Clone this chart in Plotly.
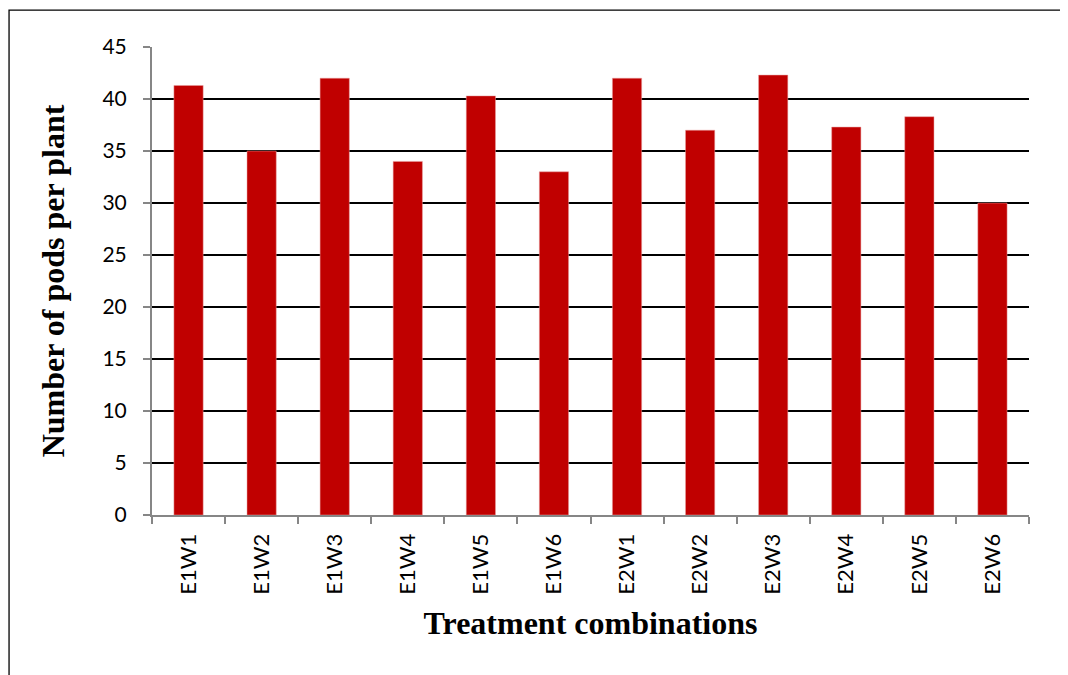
import plotly.graph_objects as go

treatments = ["E1W1", "E1W2", "E1W3", "E1W4", "E1W5", "E1W6",
              "E2W1", "E2W2", "E2W3", "E2W4", "E2W5", "E2W6"]
pods_per_plant = [41.3, 35.0, 42.0, 34.0, 40.3, 33.0,
                  42.0, 37.0, 42.3, 37.3, 38.3, 30.0]
y_ticks = [0, 5, 10, 15, 20, 25, 30, 35, 40, 45]

fig = go.Figure()

fig.add_trace(go.Bar(
    x=treatments,
    y=pods_per_plant,
    marker=dict(color="#C00000", line=dict(color="#E8A0A0", width=0.5)),
    width=0.4,
))

# outer chart frame (left and top edges visible, others run off the page)
fig.add_shape(type="rect", xref="paper", yref="paper",
              x0=-0.163, x1=1.2, y0=-0.6, y1=1.079,
              line=dict(color="black", width=1.3), layer="below")

# page body adds an 8px offset, so the margins are shifted to compensate
fig.update_layout(
    width=1068, height=675,
    margin=dict(l=144, r=47, t=39, b=168),
    plot_bgcolor="white", paper_bgcolor="white",
    showlegend=False,
    font=dict(family="Lato, 'Open Sans', sans-serif", size=21, color="black"),
)

fig.update_xaxes(
    showline=True, linecolor="#868686", linewidth=2,
    ticks="outside", tickcolor="#868686", ticklen=7, tickwidth=2,
    tickson="boundaries", tickangle=-90, ticklabelstandoff=8,
    tickfont=dict(family="Lato, 'Open Sans', sans-serif", size=22),
    title=dict(text="<b>Treatment combinations</b>", standoff=18,
               font=dict(family="Liberation Serif, Times New Roman, serif", size=32)),
    showgrid=False,
)

fig.update_yaxes(
    range=[0, 45], tickvals=y_ticks,
    showline=True, linecolor="#868686", linewidth=2,
    ticks="outside", tickcolor="#868686", ticklen=7, tickwidth=2,
    ticklabelstandoff=12,
    showgrid=True, gridcolor="black", gridwidth=1.5,
    zeroline=False,
    tickfont=dict(family="Lato, 'Open Sans', sans-serif", size=21),
    title=dict(text="<b>Number of pods per plant</b>", standoff=28,
               font=dict(family="Liberation Serif, Times New Roman, serif", size=32)),
)

fig.write_html("out.html")
